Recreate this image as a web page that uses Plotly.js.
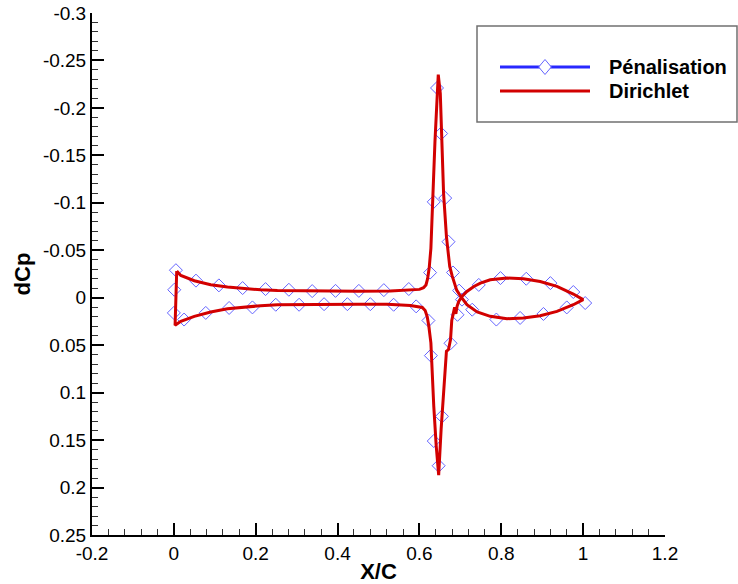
<!DOCTYPE html>
<html>
<head>
<meta charset="utf-8">
<script src="https://cdn.plot.ly/plotly-3.0.1.min.js"></script>
<style>
  html, body { margin: 0; padding: 0; background: #fff; }
  #chart { width: 738px; height: 584px; }
</style>
</head>
<body>
<div id="chart"></div>
<script>
// Dirichlet solution: closed contour of dCp along the chord
var dirX = [
  0.007, 0.017, 0.050, 0.090, 0.131, 0.172, 0.212, 0.253, 0.310, 0.367, 0.448, 0.529, 0.578,
  0.600, 0.610, 0.616, 0.620, 0.624, 0.628, 0.631, 0.634, 0.638, 0.642, 0.646,
  0.651, 0.655, 0.659, 0.666, 0.674, 0.680, 0.685, 0.691, 0.700, 0.716, 0.741, 0.773,
  0.814, 0.854, 0.895, 0.936, 0.976, 1.000,
  0.976, 0.936, 0.895, 0.854, 0.814, 0.773, 0.749, 0.733, 0.716, 0.704, 0.696, 0.692,
  0.689, 0.686, 0.682, 0.679, 0.676, 0.671, 0.666, 0.662, 0.659, 0.653, 0.647,
  0.641, 0.635, 0.631, 0.628, 0.623, 0.619, 0.614, 0.607, 0.578, 0.521, 0.448, 0.367,
  0.310, 0.253, 0.212, 0.172, 0.131, 0.090, 0.050, 0.017, 0.003, 0.007
];
var dirY = [
  -0.028, -0.0234, -0.0179, -0.0137, -0.0112, -0.0095, -0.0084, -0.0077, -0.0072, -0.0068, -0.0067, -0.0072, -0.0082,
  -0.0088, -0.0105, -0.0135, -0.020, -0.032, -0.052, -0.080, -0.120, -0.165, -0.205, -0.235,
  -0.215, -0.1625, -0.110, -0.0644, -0.033, -0.023, -0.015, -0.008, -0.002, 0.0074, 0.0150, 0.0196,
  0.0221, 0.0214, 0.0189, 0.0144, 0.0074, 0.002,
  -0.0039, -0.0119, -0.0171, -0.0200, -0.0207, -0.0189, -0.0154, -0.0119, -0.0066, -0.0014, 0.0039, 0.0091,
  0.017, 0.010, 0.018, 0.024, 0.044, 0.0546, 0.0564, 0.080, 0.0966, 0.1387, 0.187,
  0.156, 0.114, 0.0686, 0.0476, 0.030, 0.020, 0.0135, 0.0102, 0.0081, 0.0068, 0.0070, 0.0070,
  0.0068, 0.0074, 0.0084, 0.0098, 0.0116, 0.0150, 0.0196, 0.0249, 0.029, -0.028
];

// Pénalisation solution: sampled points
var penX = [
  0.005, 0.054, 0.110, 0.168, 0.224, 0.281, 0.338, 0.395, 0.452, 0.513, 0.574, 0.626,
  0.001, 0.000,
  0.025, 0.078, 0.135, 0.192, 0.249, 0.306, 0.367, 0.424, 0.480, 0.537, 0.592, 0.622,
  0.643, 0.653, 0.635, 0.663, 0.671, 0.682,
  0.628, 0.676, 0.655, 0.635, 0.647,
  0.697, 0.704, 0.693, 0.729,
  0.745, 0.798, 0.861, 0.920, 0.976, 1.005, 0.960, 0.903, 0.846, 0.788
];
var penY = [
  -0.029, -0.018, -0.013, -0.0102, -0.0091, -0.0084, -0.0070, -0.0072, -0.0072, -0.0080, -0.0092, -0.0265,
  -0.0084, 0.016,
  0.023, 0.016, 0.0108, 0.0102, 0.0074, 0.0074, 0.0068, 0.0068, 0.0068, 0.0074, 0.0091, 0.024,
  -0.221, -0.173, -0.101, -0.105, -0.059, -0.0266,
  0.061, 0.048, 0.125, 0.151, 0.177,
  -0.0075, 0.002, 0.018, 0.0126,
  -0.0135, -0.0207, -0.020, -0.0154, -0.006, 0.0056, 0.0102, 0.0171, 0.0213, 0.023
];

// Axis ticks
var xTickVals = [-0.2, 0, 0.2, 0.4, 0.6, 0.8, 1, 1.2];
var xTickText = ['-0.2', '0', '0.2', '0.4', '0.6', '0.8', '1', '1.2'];
var yTickVals = [-0.3, -0.25, -0.2, -0.15, -0.1, -0.05, 0, 0.05, 0.1, 0.15, 0.2, 0.25];
var yTickText = ['-0.3', '-0.25', '-0.2', '-0.15', '-0.1', '-0.05', '0', '0.05', '0.1', '0.15', '0.2', '0.25'];

// Legend entries
var seriesNames = ['Pénalisation', 'Dirichlet'];

var FONT = 'Liberation Sans, Arial, Helvetica, sans-serif';
var BLUE = 'rgb(40,40,255)';
var BLUE_MARK = 'rgb(100,100,255)';
var RED = 'rgb(210,0,0)';

var traces = [
  {
    x: penX, y: penY, type: 'scatter', mode: 'markers', name: seriesNames[0],
    marker: { symbol: 'diamond-open', size: 10, color: BLUE_MARK, line: { width: 1, color: BLUE_MARK } },
    showlegend: false, hoverinfo: 'x+y'
  },
  {
    x: dirX, y: dirY, type: 'scatter', mode: 'lines', name: seriesNames[1],
    line: { color: RED, width: 3 }, showlegend: false, hoverinfo: 'x+y'
  }
];

// legend placement helpers (paper coordinates of the plot area)
var L = 92, R = 665, T = 13, B = 535;
function px(xp) { return (xp - L) / (R - L); }
function py(yp) { return (B - yp) / (B - T); }

var dxD = 6.3 / (R - L), dyD = 7.5 / (B - T);
var dcx = px(545), dcy = py(67);
var diamondPath = 'M' + (dcx - dxD) + ',' + dcy + ' L' + dcx + ',' + (dcy + dyD) +
  ' L' + (dcx + dxD) + ',' + dcy + ' L' + dcx + ',' + (dcy - dyD) + ' Z';

var layout = {
  width: 738, height: 584,
  margin: { l: L, r: 738 - R, t: T, b: 584 - B },
  paper_bgcolor: '#fff', plot_bgcolor: '#fff',
  showlegend: false,
  font: { family: FONT, color: '#000', size: 19 },
  xaxis: {
    range: [-0.2, 1.2], tickmode: 'array', tickvals: xTickVals, ticktext: xTickText,
    ticks: 'inside', ticklen: 12, tickwidth: 2, tickcolor: '#000',
    showline: true, linewidth: 2, linecolor: '#000', mirror: false,
    showgrid: false, zeroline: false,
    tickfont: { family: FONT, size: 19, color: '#000' },
    minor: { tickmode: 'linear', tick0: -0.2, dtick: 0.04, ticks: 'inside', ticklen: 6, tickwidth: 1, tickcolor: '#333', showgrid: false },
    title: { text: 'X/C', font: { family: FONT, size: 22, weight: 'bold', color: '#000' }, standoff: 4 }
  },
  yaxis: {
    range: [0.25, -0.3], tickmode: 'array', tickvals: yTickVals, ticktext: yTickText,
    ticks: 'inside', ticklen: 12, tickwidth: 2, tickcolor: '#000',
    showline: true, linewidth: 2, linecolor: '#000', mirror: false,
    showgrid: false, zeroline: false,
    tickfont: { family: FONT, size: 19, color: '#000' },
    minor: { tickmode: 'linear', tick0: -0.3, dtick: 0.01, ticks: 'inside', ticklen: 6, tickwidth: 1, tickcolor: '#333', showgrid: false },
    title: { text: 'dCp', font: { family: FONT, size: 22, weight: 'bold', color: '#000' }, standoff: 6 }
  },
  shapes: [
    { type: 'rect', xref: 'paper', yref: 'paper', x0: px(477), x1: px(737), y0: py(122), y1: py(26),
      line: { color: '#707070', width: 1.5 }, fillcolor: '#fff', layer: 'above' },
    { type: 'line', xref: 'paper', yref: 'paper', x0: px(500), x1: px(590), y0: py(67), y1: py(67),
      line: { color: BLUE, width: 3 }, layer: 'above' },
    { type: 'path', xref: 'paper', yref: 'paper', path: diamondPath,
      line: { color: BLUE_MARK, width: 1 }, fillcolor: '#fff', layer: 'above' },
    { type: 'line', xref: 'paper', yref: 'paper', x0: px(500), x1: px(590), y0: py(91), y1: py(91),
      line: { color: RED, width: 3 }, layer: 'above' }
  ],
  annotations: [
    { xref: 'paper', yref: 'paper', x: px(607), y: py(67), xanchor: 'left', yanchor: 'middle',
      text: seriesNames[0], showarrow: false, font: { family: FONT, size: 20, weight: 'bold', color: '#000' } },
    { xref: 'paper', yref: 'paper', x: px(607), y: py(91), xanchor: 'left', yanchor: 'middle',
      text: seriesNames[1], showarrow: false, font: { family: FONT, size: 20, weight: 'bold', color: '#000' } }
  ]
};

Plotly.newPlot('chart', traces, layout, { displayModeBar: false, staticPlot: true });
</script>
</body>
</html>
